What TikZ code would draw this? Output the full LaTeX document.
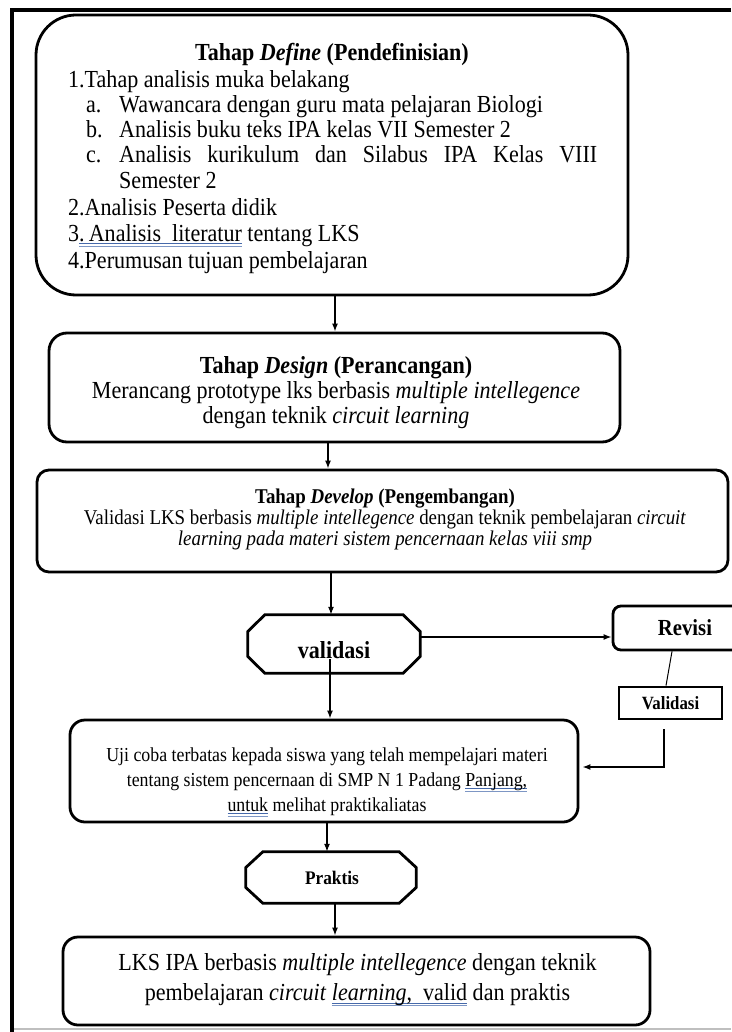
\documentclass[tikz,border=0pt]{standalone}
\usepackage{fontspec}
\setmainfont{Liberation Serif}[FakeStretch=0.9]
\usetikzlibrary{arrows.meta,calc}
\definecolor{ulblue}{RGB}{70,105,170}
\newcommand\bul[1]{\setbox0=\hbox{#1}\rlap{\color{ulblue}\rule[-3pt]{\wd0}{0.9pt}}\rlap{\color{ulblue!70}\rule[-5.5pt]{\wd0}{0.9pt}}\box0{}}
\newcommand\fz[2]{\fontsize{#1}{#2}\selectfont}
\newcommand\octa[3]{\draw[octline] ($(#1.north west)+(#2,0)$) -- ($(#1.north east)+(-#2,0)$) -- ($(#1.east)+(0,-#3)$) -- ($(#1.east)+(0,#3)$) -- ($(#1.south east)+(-#2,0)$) -- ($(#1.south west)+(#2,0)$) -- ($(#1.west)+(0,#3)$) -- ($(#1.west)+(0,-#3)$) -- cycle;}
\begin{document}
\begin{tikzpicture}[x=1pt,y=-1pt,
  box/.style={draw, line width=2.8pt, inner sep=0pt},
  octline/.style={line width=2.8pt, line join=miter},
  txt/.style={inner sep=0pt},
  conn/.style={line width=1.4pt},
  arr/.style={conn, -{Latex[length=8pt,width=6pt]}}]
\fill[white] (0,0) rectangle (731,1032);
\useasboundingbox (0,0) rectangle (731,1032);
% frame
\draw[black!25, line width=2pt] (12,1029) -- (731,1029);
\draw[line width=4pt] (731,10) -- (12,10) -- (12,1032);

% box 1
\node[box, rounded corners=40pt, minimum width=592pt, minimum height=280pt] (b1) at (332,155) {};
\begin{scope}[every node/.style={txt, font=\fz{24.5}{26}}]
\node[anchor=base] (l0) at (332,61) {\textbf{Tahap \textit{Define} (Pendefinisian)}};
\node[anchor=base west] (l1) at (68,88) {1.Tahap analisis muka belakang};
\node[anchor=base west] (l2a) at (86,113) {a.};
\node[anchor=base west] (l2) at (119,113) {Wawancara dengan guru mata pelajaran Biologi};
\node[anchor=base west] (l3a) at (86,138) {b.};
\node[anchor=base west] (l3) at (119,138) {Analisis buku teks IPA kelas VII Semester 2};
\node[anchor=base west] (l4a) at (86,163) {c.};
\node[anchor=base west] (l4) at (119,163) {\hbox to 478pt{Analisis\hfill kurikulum\hfill dan\hfill Silabus\hfill IPA\hfill Kelas\hfill VIII}};
\node[anchor=base west] (l5) at (119,189) {Semester 2};
\node[anchor=base west] (l6) at (68,215) {2.Analisis Peserta didik};
\node[anchor=base west] (l7) at (68,241) {3\bul{.\,Analisis\ \ literatur} tentang LKS};
\node[anchor=base west] (l8) at (68,268) {4.Perumusan tujuan pembelajaran};
\end{scope}

% box 2
\node[box, rounded corners=18pt, minimum width=571pt, minimum height=109pt] (b2) at (334.5,387.5) {};
\node[txt, align=center, font=\fz{24.5}{25}] (t2) at (336,393) {\textbf{Tahap \textit{Design} (Perancangan)}\\Merancang prototype lks berbasis \textit{multiple intellegence}\\dengan teknik \textit{circuit learning}};

% box 3
\node[box, rounded corners=12pt, minimum width=691pt, minimum height=102pt] (b3) at (382.5,521) {};
\node[txt, align=center, font=\fz{21}{21}] (t3) at (385,519) {\textbf{Tahap \textit{Develop} (Pengembangan)}\\Validasi LKS berbasis \textit{multiple intellegence} dengan teknik pembelajaran \textit{circuit}\\\textit{learning pada materi sistem pencernaan kelas viii smp}};

% validasi octagon
\node[txt, minimum width=172pt, minimum height=58pt] (v) at (334,644) {};
\octa{v}{17}{12.5}
\node[txt, font=\fz{24.5}{26}\bfseries] (vt) at (334,650) {validasi};

% revisi
\node[box, rounded corners=8pt, minimum width=144pt, minimum height=44pt, font=\fz{23}{24}\bfseries] (rv) at (685,628) {Revisi};
\node[box, minimum width=103pt, minimum height=32pt, font=\fz{18.7}{20}\bfseries] (vb) at (670.5,703) {Validasi};

% uji coba
\node[box, rounded corners=15pt, minimum width=508pt, minimum height=102pt] (uji) at (324,771) {};
\node[txt, align=center, font=\fz{19.8}{25}] (t4) at (327,782) {Uji coba terbatas kepada siswa yang telah mempelajari materi\\tentang sistem pencernaan di SMP N 1 Padang \bul{Panjang,}\\\bul{untuk} melihat praktikaliatas};

% praktis octagon
\node[txt, minimum width=170pt, minimum height=51pt] (p) at (331,877.5) {};
\octa{p}{17}{10}
\node[txt, font=\fz{19.2}{20}\bfseries] (pt) at (332,878) {Praktis};

% final box
\node[box, rounded corners=15pt, minimum width=587pt, minimum height=88pt] (fin) at (356.5,981) {};
\node[txt, align=center, font=\fz{24.5}{30}] (t5) at (357.5,980) {LKS IPA berbasis \textit{multiple intellegence} dengan teknik\\pembelajaran \textit{circuit} \bul{\textit{learning},\ \ valid} dan praktis};

% connectors
\coordinate (x1) at (335,0);
\coordinate (x2) at (328,0);
\coordinate (x3) at (331,0);
\coordinate (x4) at (330,0);
\coordinate (x5) at (327,0);
\draw[arr] (b1.south -| x1) -- (b2.north -| x1);
\draw[arr] (b2.south -| x2) -- (b3.north -| x2);
\draw[arr] (b3.south -| x3) -- (v.north -| x3);
\draw[arr] (vt.south -| x4) -- (uji.north -| x4);
\coordinate (ra) at ($(rv.west)+(0,9)$);
\draw[arr] (v.east |- ra) -- (ra);
\draw[conn, line width=1pt] ($(rv.south)+(-13,0)$) -- ($(vb.north)+(-4.5,0)$);
\draw[arr] ($(vb.south)+(-6.5,9)$) |- ($(uji.east)+(3,-4)$);
\draw[arr] (uji.south -| x5) -- (p.north -| x5);
\draw[arr] (p.south -| x1) -- (fin.north -| x1);
\end{tikzpicture}
\end{document}
